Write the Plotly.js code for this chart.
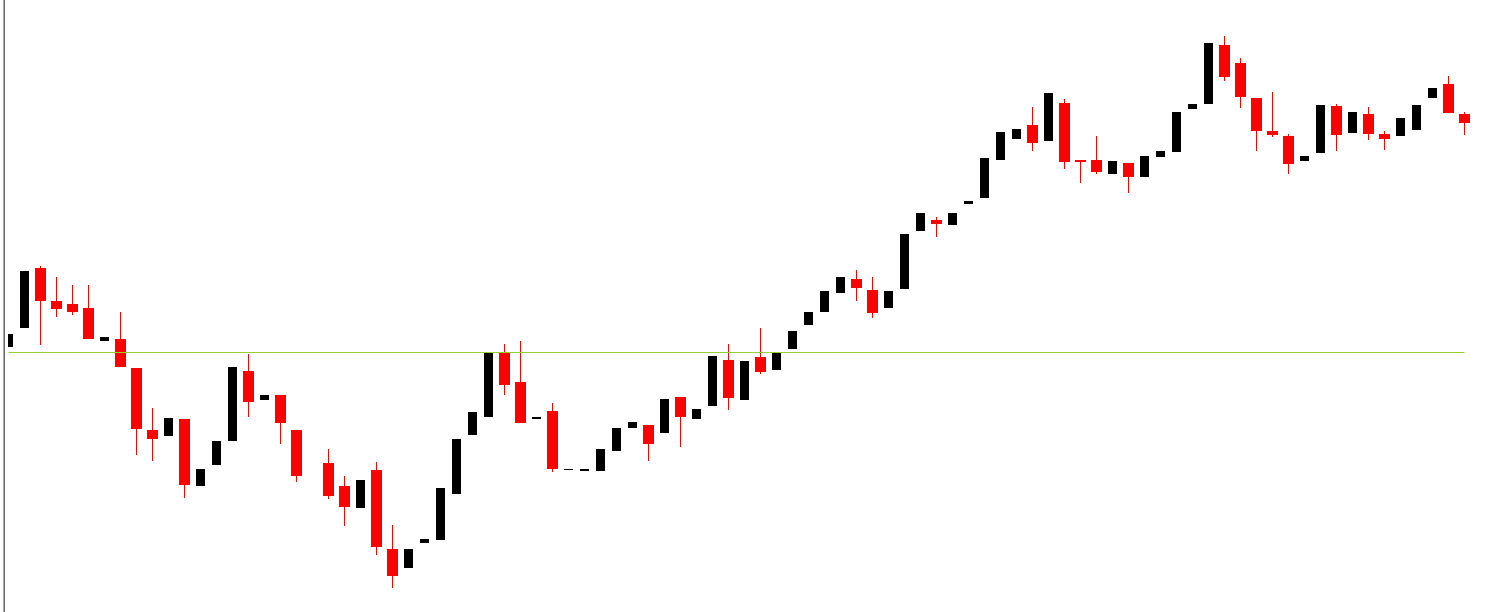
<!DOCTYPE html>
<html>
<head>
<meta charset="utf-8">
<script src="https://cdn.plot.ly/plotly-3.0.1.min.js"></script>
<style>
  html, body { margin: 0; padding: 0; background: #ffffff; overflow: hidden; }
  #wrap { position: relative; width: 1505px; height: 612px; }
  #chart { position: absolute; left: 0; top: 0; width: 1505px; height: 612px; }
  .edge1 { position: absolute; left: 3px; top: 0; width: 1px; height: 612px; background: #a8a8a8; z-index: 5; }
  .edge2 { position: absolute; left: 4px; top: 0; width: 1px; height: 612px; background: #6a6a6a; z-index: 5; }
</style>
</head>
<body>
<div id="wrap">
  <div id="chart"></div>
  <div class="edge1"></div>
  <div class="edge2"></div>
</div>
<script>
// OHLC values per bar (bar 19 has no visible candle)
const open = [
  1.1265, 1.1284, 1.1344, 1.1311, 1.1308, 1.1304, 1.1271, 1.1273, 1.1244, 1.1182,
  1.1176, 1.1193, 1.1126, 1.1147, 1.1171, 1.1241, 1.1212, 1.1217, 1.1182, null,
  1.1149, 1.1126, 1.1104, 1.1142, 1.1063, 1.1044, 1.1069, 1.1072, 1.1118, 1.1177,
  1.1195, 1.1259, 1.1230, 1.1193, 1.1201, 1.1142, 1.1141, 1.1141, 1.1161, 1.1184,
  1.1187, 1.1179, 1.1215, 1.1193, 1.1206, 1.1252, 1.1212, 1.1255, 1.1242, 1.1263,
  1.1287, 1.1300, 1.1319, 1.1333, 1.1322, 1.1304, 1.1323, 1.1381, 1.1392, 1.1387,
  1.1408, 1.1414, 1.1452, 1.1473, 1.1487, 1.1471, 1.1509, 1.1452, 1.1452, 1.1438,
  1.1449, 1.1435, 1.1455, 1.1460, 1.1503, 1.1508, 1.1567, 1.1549, 1.1514, 1.1481,
  1.1476, 1.1451, 1.1459, 1.1506, 1.1479, 1.1498, 1.1478, 1.1476, 1.1482, 1.1514,
  1.1528, 1.1498
];
const high = [
  1.1278, 1.1341, 1.1346, 1.1335, 1.1327, 1.1327, 1.1275, 1.1300, 1.1244, 1.1204,
  1.1194, 1.1193, 1.1143, 1.1171, 1.1245, 1.1258, 1.1217, 1.1217, 1.1182, null,
  1.1163, 1.1136, 1.1132, 1.1150, 1.1087, 1.1063, 1.1073, 1.1124, 1.1173, 1.1200,
  1.1259, 1.1268, 1.1271, 1.1195, 1.1209, 1.1143, 1.1143, 1.1163, 1.1184, 1.1190,
  1.1187, 1.1213, 1.1215, 1.1203, 1.1256, 1.1268, 1.1251, 1.1284, 1.1259, 1.1281,
  1.1300, 1.1321, 1.1335, 1.1342, 1.1335, 1.1321, 1.1378, 1.1399, 1.1395, 1.1399,
  1.1411, 1.1454, 1.1480, 1.1483, 1.1505, 1.1519, 1.1513, 1.1452, 1.1476, 1.1451,
  1.1449, 1.1456, 1.1461, 1.1500, 1.1508, 1.1569, 1.1576, 1.1554, 1.1514, 1.1520,
  1.1478, 1.1456, 1.1507, 1.1508, 1.1500, 1.1505, 1.1481, 1.1494, 1.1507, 1.1524,
  1.1536, 1.1500
];
const low = [
  1.1265, 1.1284, 1.1267, 1.1295, 1.1297, 1.1273, 1.1271, 1.1245, 1.1157, 1.1151,
  1.1176, 1.1114, 1.1126, 1.1147, 1.1171, 1.1195, 1.1212, 1.1168, 1.1130, null,
  1.1113, 1.1086, 1.1104, 1.1057, 1.1024, 1.1044, 1.1069, 1.1072, 1.1118, 1.1177,
  1.1195, 1.1217, 1.1189, 1.1193, 1.1140, 1.1142, 1.1141, 1.1141, 1.1161, 1.1184,
  1.1151, 1.1179, 1.1165, 1.1193, 1.1206, 1.1202, 1.1212, 1.1238, 1.1242, 1.1263,
  1.1287, 1.1300, 1.1319, 1.1311, 1.1294, 1.1304, 1.1323, 1.1381, 1.1375, 1.1387,
  1.1408, 1.1414, 1.1452, 1.1473, 1.1461, 1.1471, 1.1443, 1.1429, 1.1438, 1.1438,
  1.1419, 1.1435, 1.1455, 1.1460, 1.1503, 1.1508, 1.1531, 1.1504, 1.1461, 1.1475,
  1.1438, 1.1451, 1.1459, 1.1461, 1.1479, 1.1472, 1.1462, 1.1476, 1.1482, 1.1514,
  1.1499, 1.1477
];
const close = [
  1.1278, 1.1341, 1.1311, 1.1303, 1.1300, 1.1273, 1.1275, 1.1245, 1.1183, 1.1173,
  1.1194, 1.1127, 1.1143, 1.1171, 1.1245, 1.1210, 1.1217, 1.1189, 1.1136, null,
  1.1116, 1.1105, 1.1132, 1.1065, 1.1036, 1.1063, 1.1073, 1.1124, 1.1173, 1.1200,
  1.1259, 1.1227, 1.1189, 1.1195, 1.1143, 1.1143, 1.1143, 1.1163, 1.1184, 1.1190,
  1.1168, 1.1213, 1.1195, 1.1203, 1.1256, 1.1214, 1.1251, 1.1240, 1.1259, 1.1281,
  1.1300, 1.1321, 1.1335, 1.1324, 1.1299, 1.1321, 1.1378, 1.1399, 1.1388, 1.1399,
  1.1411, 1.1454, 1.1480, 1.1483, 1.1469, 1.1519, 1.1450, 1.1450, 1.1440, 1.1451,
  1.1435, 1.1456, 1.1461, 1.1500, 1.1508, 1.1569, 1.1535, 1.1515, 1.1481, 1.1477,
  1.1448, 1.1456, 1.1507, 1.1477, 1.1500, 1.1478, 1.1473, 1.1494, 1.1507, 1.1524,
  1.1499, 1.1489
];
// horizontal level line
const levelPrice = 1.12595;
const levelFrom = 0;
const levelTo = 91;

// build traces
const upX = [], upBase = [], upH = [];
const dnX = [], dnBase = [], dnH = [];
const wickX = [], wickY = [];
for (let i = 0; i < open.length; i++) {
  const o = open[i], c = close[i];
  if (o === null || c === null) continue;
  const h = Math.max(Number(Math.abs(c - o).toFixed(5)), 0.0001);
  if (c >= o) {
    upX.push(i); upBase.push(o); upH.push(h);
  } else {
    dnX.push(i); dnBase.push(c); dnH.push(h);
    wickX.push(i, i, null);
    wickY.push(high[i], low[i], null);
  }
}

const traces = [
  {
    type: 'bar', x: upX, y: upH, base: upBase, width: 0.5625,
    marker: { color: '#000000', line: { width: 0 } }, hoverinfo: 'skip'
  },
  {
    type: 'scatter', mode: 'lines', x: wickX, y: wickY, connectgaps: false,
    line: { color: '#ff0000', width: 1 }, hoverinfo: 'skip'
  },
  {
    type: 'bar', x: dnX, y: dnH, base: dnBase, width: 0.6875,
    marker: { color: '#ff0000', line: { width: 0 } }, hoverinfo: 'skip'
  }
];

const layout = {
  width: 1505, height: 612,
  margin: { l: 8, r: 0, t: 0, b: 0, pad: 0 },
  paper_bgcolor: '#ffffff', plot_bgcolor: '#ffffff',
  showlegend: false, barmode: 'overlay',
  xaxis: { range: [-0.03125, 93.53125], visible: false, fixedrange: true },
  yaxis: { range: [1.1000, 1.1612], visible: false, fixedrange: true },
  shapes: [{
    type: 'line', xref: 'x', yref: 'y',
    x0: levelFrom, x1: levelTo, y0: levelPrice, y1: levelPrice,
    line: { color: '#9acd32', width: 1 }
  }]
};

Plotly.newPlot('chart', traces, layout, { displayModeBar: false, responsive: false });
</script>
</body>
</html>
